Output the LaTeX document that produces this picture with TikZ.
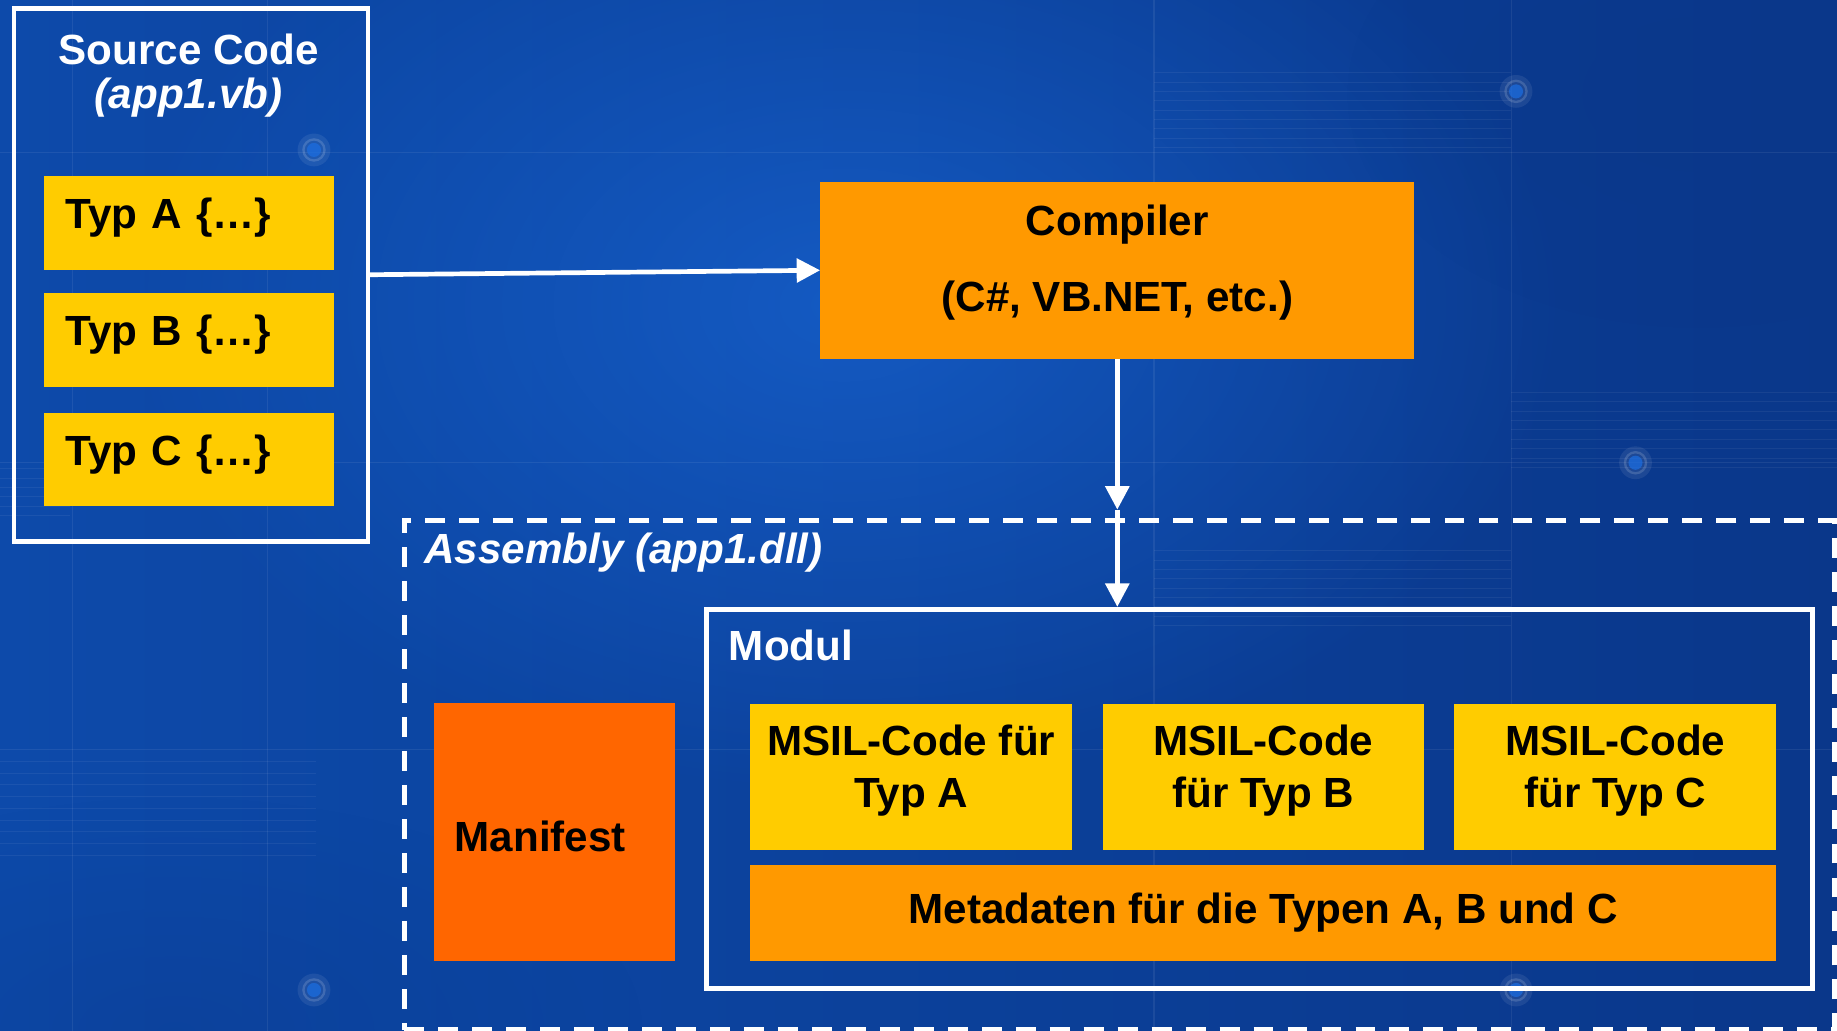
\documentclass[tikz,border=0pt]{standalone}
\usepackage{fontspec}
\setmainfont{Liberation Sans}
\usetikzlibrary{arrows.meta,fadings}

\definecolor{bgleft}{HTML}{0D4AAA}
\definecolor{bgmid}{HTML}{125CCB}
\definecolor{bgright}{HTML}{0A378A}
\definecolor{bghi}{HTML}{1B6EE2}
\definecolor{codeyellow}{HTML}{FFCC00}
\definecolor{compiler}{HTML}{FF9900}
\definecolor{manifest}{HTML}{FF6600}

\tikzfading[name=glow, inner color=transparent!0, outer color=transparent!100]

% invisible struts that trim the vertical placement of box texts
\newcommand{\lowpad}[1]{\rule[-#1]{0pt}{1pt}}
\newcommand{\highpad}[1]{\rule{0pt}{#1}}

\begin{document}
\begin{tikzpicture}[x=1pt,y=-1pt,
  big/.style={font=\fontsize{36}{40}\selectfont\bfseries},
  frame/.style={draw=white,line width=4pt,inner sep=0pt,anchor=north west},
  dframe/.style={frame,dash pattern=on 17pt off 12pt},
  fillbox/.style={inner sep=0pt,anchor=north west,big,text=black},
  typbox/.style={fillbox,fill=codeyellow,minimum width=248pt,minimum height=80pt,
    text width=210pt,inner xsep=19pt,align=left},
  msilbox/.style={fillbox,fill=codeyellow,minimum height=124pt,align=center,
    font=\fontsize{36}{44}\selectfont\bfseries},
  whitetxt/.style={big,text=white,inner sep=0pt},
  arr/.style={draw=white,line width=4pt,-{Triangle[length=20pt,width=20pt]}},
  faint/.style={draw=white,opacity=0.07,line width=1pt},
  stripe/.style={draw=white,opacity=0.06,line width=0.8pt}
]
% background
\useasboundingbox (0,0) rectangle (1568,880);
\shade[left color=bgleft,middle color=bgmid,right color=bgright] (0,0) rectangle (1568,880);
\fill[bghi,path fading=glow,opacity=0.55] (720,260) ellipse (620pt and 420pt);
\fill[bgright,path fading=glow,opacity=0.5] (1450,80) ellipse (300pt and 200pt);
\fill[bgright,path fading=glow,opacity=0.35] (150,880) ellipse (400pt and 200pt);

% faint grid of the backdrop
\foreach \gx in {62,228,985,1290} \draw[faint] (\gx,0) -- (\gx,880);
\foreach \gy in {130,395,640} \draw[faint] (0,\gy) -- (1568,\gy);
\foreach \k in {0,...,8} {
  \draw[stripe] (985,62+8*\k) -- (1290,62+8*\k);
  \draw[stripe] (1290,335+8*\k) -- (1568,335+8*\k);
  \draw[stripe] (0,650+10*\k) -- (270,650+10*\k);
  \draw[stripe] (985,470+8*\k) -- (1290,470+8*\k);
}
\foreach \k in {0,...,5} \draw[stripe] (0,400+8*\k) -- (60,400+8*\k);
\foreach \px/\py in {268/128,1294/78,1396/395,268/845,1294/845} {
  \fill[white,opacity=0.08] (\px,\py) circle (14pt);
  \draw[white,opacity=0.15,line width=2pt] (\px,\py) circle (9pt);
  \fill[bghi,opacity=0.7] (\px,\py) circle (6pt);
}

% source code
\node[frame,minimum width=302pt,minimum height=455pt] (src) at (10,5) {};
\node[whitetxt,anchor=base] (srctitle) at (161,55) {Source Code};
\node[whitetxt,anchor=base] (srcfile) at (161,93) {\itshape (app1.vb)};
\node[typbox] (typA) at (37,150) {Typ A \{\dots\}\lowpad{16pt}};
\node[typbox] (typB) at (37,250) {Typ B \{\dots\}\lowpad{16pt}};
\node[typbox] (typC) at (37,352) {Typ C \{\dots\}\lowpad{16pt}};

% compiler
\node[fillbox,fill=compiler,minimum width=507pt,minimum height=151pt,align=center]
  (comp) at (700,155) {Compiler\\[25pt](C\#, VB.NET, etc.)\lowpad{21pt}};

% assembly
\node[dframe,minimum width=1221pt,minimum height=435pt] (asm) at (343,442) {};
\node[whitetxt,anchor=base west] (asmtitle) at (362,481) {\itshape Assembly (app1.dll)};
\node[fillbox,fill=manifest,minimum width=206pt,minimum height=220pt,
  text width=170pt,inner xsep=18pt,align=left] (mani) at (370,600) {\highpad{34pt}Manifest};

% module
\node[frame,minimum width=944pt,minimum height=324pt] (modul) at (601,518) {};
\node[whitetxt,anchor=base west] (modtitle) at (622,564) {Modul};
\node[msilbox,minimum width=275pt] (msilA) at (640,601) {MSIL-Code für\\Typ A\lowpad{18pt}};
\node[msilbox,minimum width=274pt] (msilB) at (941,601) {MSIL-Code\\für Typ B\lowpad{18pt}};
\node[msilbox,minimum width=275pt] (msilC) at (1241,601) {MSIL-Code\\für Typ C\lowpad{18pt}};
\node[fillbox,fill=compiler,minimum width=876pt,minimum height=82pt] (meta) at (640,738)
  {Metadaten für die Typen A, B und C};

% connectors
\coordinate (gate) at (comp.south |- asm.north);
\draw[arr] (src.east) -- (comp.west);
\draw[arr] (comp.south) -- ([yshift=7pt]gate);
\draw[arr] ([yshift=7pt]gate) -- (comp.south |- modul.north);
\end{tikzpicture}
\end{document}
